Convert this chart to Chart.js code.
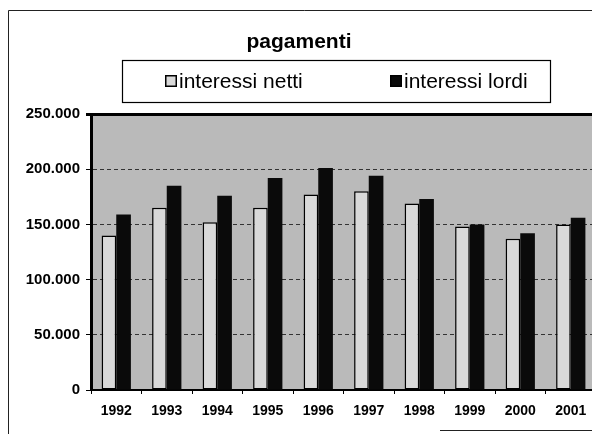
<!DOCTYPE html>
<html><head><meta charset="utf-8">
<script src="https://cdn.jsdelivr.net/npm/chart.js@4/dist/chart.umd.min.js"></script>
<style>
html,body{margin:0;padding:0;background:#fff;overflow:hidden;width:592px;height:434px}
#wrap{position:absolute;left:0;top:0;width:600px;height:434px}
</style>
</head><body><div id="wrap"><canvas id="c" width="600" height="434"></canvas></div>
<script>
const years = ['1992','1993','1994','1995','1996','1997','1998','1999','2000','2001'];
const interessiNetti = [140000,165000,152000,165000,177000,180000,169000,148000,137000,150000];
const interessiLordi = [159000,185000,176000,192000,201000,194000,173000,150000,142000,156000];
const seriesNames = ['interessi netti','interessi lordi'];
const chartTitle = 'pagamenti';
const yMin = 0, yMax = 250000, yStep = 50000;

const FONT = "'Liberation Sans', Arial, sans-serif";
const fmt = v => String(v).replace(/\B(?=(\d{3})+(?!\d))/g, '.');

const decor = {
  id: 'decor',
  beforeDraw(chart) {
    const {ctx, chartArea: a} = chart;
    ctx.save();
    ctx.fillStyle = '#bababa';
    ctx.fillRect(a.left, a.top, a.right - a.left, a.bottom - a.top);
    ctx.restore();
  },
  afterDraw(chart) {
    const {ctx} = chart;
    ctx.save();
    // outer frame (partially visible in the scan)
    ctx.strokeStyle = '#222';
    ctx.lineWidth = 1;
    ctx.beginPath();
    ctx.moveTo(8.5, 434); ctx.lineTo(8.5, 10.5); ctx.lineTo(600, 10.5);
    ctx.moveTo(440, 430.5); ctx.lineTo(600, 430.5);
    ctx.stroke();
    // title
    ctx.fillStyle = '#000';
    ctx.font = 'bold 21px ' + FONT;
    ctx.textAlign = 'center';
    ctx.textBaseline = 'alphabetic';
    ctx.fillText(chartTitle, 299, 48);
    // legend box
    ctx.lineWidth = 1.2;
    ctx.strokeStyle = '#000';
    ctx.strokeRect(122.5, 60.5, 428, 42);
    const xs = [165, 390];
    ctx.font = '21px ' + FONT;
    ctx.textAlign = 'left';
    ctx.textBaseline = 'middle';
    chart.data.datasets.forEach((ds, i) => {
      ctx.fillStyle = ds.backgroundColor;
      ctx.fillRect(xs[i], 75, 12, 12);
      ctx.strokeStyle = '#000';
      ctx.lineWidth = 1.5;
      ctx.strokeRect(xs[i] + 0.75, 75.75, 10.5, 10.5);
      ctx.fillStyle = '#000';
      ctx.fillText(ds.label, xs[i] + 14, 82);
    });
    ctx.restore();
  }
};

new Chart(document.getElementById('c'), {
  type: 'bar',
  data: {
    labels: years,
    datasets: [
      {label: seriesNames[0], data: interessiNetti, backgroundColor: '#d9d9d9', borderColor: '#000', borderWidth: 1.5, borderSkipped: false},
      {label: seriesNames[1], data: interessiLordi, backgroundColor: '#0a0a0a', borderColor: '#000', borderWidth: 0}
    ]
  },
  options: {
    responsive: false,
    animation: false,
    devicePixelRatio: 1,
    layout: {padding: {top: 114, right: 4, left: 0, bottom: 0}},
    datasets: {bar: {categoryPercentage: 0.58, barPercentage: 1.0}},
    plugins: {legend: {display: false}, title: {display: false}, tooltip: {enabled: false}},
    scales: {
      x: {
        afterFit: s => { s.height = 44; },
        grid: {display: true, drawOnChartArea: false, drawTicks: true, tickLength: 4, color: '#000', offset: true},
        border: {display: true, color: '#000', width: 2},
        ticks: {color: '#000', font: {family: FONT, size: 14, weight: 'bold'}, padding: 9, maxRotation: 0}
      },
      y: {
        min: yMin, max: yMax,
        afterFit: s => { s.width = 91; },
        ticks: {stepSize: yStep, color: '#000', font: {family: FONT, size: 15, weight: 'bold'}, padding: 6, callback: v => fmt(v)},
        grid: {
          drawTicks: true, tickLength: 5, tickColor: '#000',
          color: c => (c.tick && c.tick.value === yMax) ? '#000' : (c.tick && c.tick.value === 0 ? 'rgba(0,0,0,0)' : '#333'),
          lineWidth: c => (c.tick && c.tick.value === yMax) ? 3 : 1
        },
        border: {display: true, color: '#000', width: 3, dash: c => (c.tick && c.tick.value !== yMax) ? [4, 3] : []}
      }
    }
  },
  plugins: [decor]
});
</script>
</body></html>
